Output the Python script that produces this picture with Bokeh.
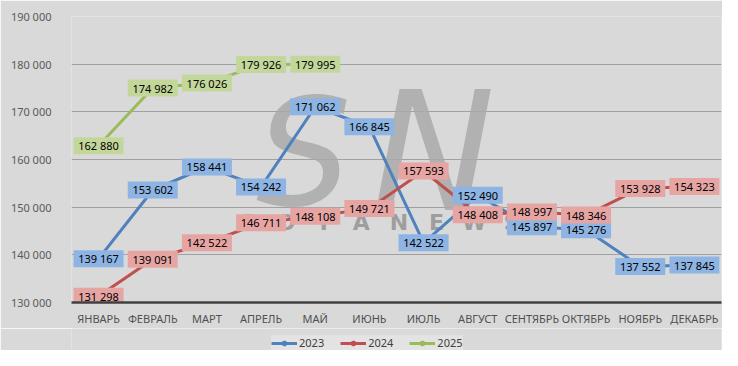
from bokeh.plotting import figure
from bokeh.layouts import column
from bokeh.models import (ColumnDataSource, FixedTicker, Legend, LegendItem,
                          Range1d, FactorRange, Label)
from bokeh.core.properties import value
from bokeh.embed import file_html
from bokeh.resources import INLINE

months = ["ЯНВАРЬ", "ФЕВРАЛЬ", "МАРТ", "АПРЕЛЬ", "МАЙ", "ИЮНЬ", "ИЮЛЬ",
          "АВГУСТ", "СЕНТЯБРЬ", "ОКТЯБРЬ", "НОЯБРЬ", "ДЕКАБРЬ"]
y2023 = [139167, 153602, 158441, 154242, 171062, 166845, 142522, 152490,
         145897, 145276, 137552, 137845]
y2024 = [131298, 139091, 142522, 146711, 148108, 149721, 157593, 148408,
         148997, 148346, 153928, 154323]
y2025 = [162880, 174982, 176026, 179926, 179995]
y_ticks = [130000, 140000, 150000, 160000, 170000, 180000, 190000]
y_tick_labels = ["130 000", "140 000", "150 000", "160 000", "170 000",
                 "180 000", "190 000"]

FONT = "Noto Sans"
BG = "#d9d9d9"
WM = "#a9a9a9"

p = figure(width=722, height=328, x_range=FactorRange(*months),
           y_range=Range1d(130000, 190000), output_backend="svg",
           toolbar_location=None, min_border_left=71, min_border_right=1,
           min_border_top=16, min_border_bottom=20)
p.background_fill_color = BG
p.border_fill_color = BG
p.outline_line_color = None

# grid / axes
p.xgrid.grid_line_color = None
p.ygrid.grid_line_color = "#a0a0a0"
p.ygrid.grid_line_width = 1
p.yaxis.ticker = FixedTicker(ticks=y_ticks)
p.yaxis.major_label_overrides = {t: l for t, l in zip(y_ticks, y_tick_labels)}
p.yaxis.axis_line_color = None
p.yaxis.major_tick_line_color = None
p.yaxis.minor_tick_line_color = None
p.yaxis.major_tick_out = 0
p.yaxis.minor_tick_out = 0
p.yaxis.major_label_standoff = 20
p.yaxis.major_label_text_font = FONT
p.yaxis.major_label_text_font_size = "11px"
p.yaxis.major_label_text_color = "#595959"

p.xaxis.axis_line_color = "#404040"
p.xaxis.axis_line_width = 2.5
p.xaxis.major_tick_line_color = None
p.xaxis.minor_tick_line_color = None
p.xaxis.major_tick_out = 0
p.xaxis.minor_tick_out = 0
p.xaxis.major_label_standoff = 8
p.xaxis.major_label_text_font = FONT
p.xaxis.major_label_text_font_size = "11px"
p.xaxis.major_label_text_color = "#505050"

# watermark (decoration, screen units relative to the plot frame)
p.add_layout(Label(x=232, y=150, x_units="screen", y_units="screen", text="S",
                   text_font="DejaVu Sans", text_font_style="italic",
                   text_font_size="150px", text_color=WM, text_alpha=0.85,
                   text_align="center", text_baseline="middle",
                   level="underlay"))
p.add_layout(Label(x=362, y=150, x_units="screen", y_units="screen", text="N",
                   text_font="DejaVu Sans", text_font_style="italic",
                   text_font_size="165px", text_color=WM, text_alpha=0.85,
                   text_align="center", text_baseline="middle",
                   level="underlay"))
for i, ch in enumerate("SOYANEWS"):
    p.add_layout(Label(x=177 + 37.6 * i, y=80, x_units="screen",
                       y_units="screen", text=ch, text_font="DejaVu Sans",
                       text_font_style="bold", text_font_size="22px",
                       text_color="#9e9e9e", text_alpha=1.0,
                       text_align="center", text_baseline="middle",
                       level="underlay"))

series = [
    ("2023", months, y2023, "#4f81bd", "#8db4e2"),
    ("2024", months, y2024, "#c0504d", "#e6a5a3"),
    ("2025", months[:len(y2025)], y2025, "#9bbb59", "#c4d79b"),
]


def fmt(v):
    return f"{v:,}".replace(",", " ")


for name, xs, ys, lc, fc in series:
    src = ColumnDataSource(dict(x=xs, y=ys, t=[fmt(v) for v in ys]))
    p.line("x", "y", source=src, line_color=lc, line_width=3)
    p.scatter("x", "y", source=src, size=15, fill_color=lc, line_color=lc)

for name, xs, ys, lc, fc in series:
    src = ColumnDataSource(dict(x=xs, y=ys, t=[fmt(v) for v in ys]))
    p.rect("x", "y", width=50, height=17, width_units="screen",
           height_units="screen", source=src, fill_color=fc, line_color=None)
    p.text("x", "y", text="t", source=src, text_font=value(FONT),
           text_font_size="11px", text_color="#000000", text_align="center",
           text_baseline="middle")

# legend strip (separate small figure so the legend is not clipped)
lg = figure(width=722, height=22, x_range=Range1d(0, 1), y_range=Range1d(0, 1),
            output_backend="svg", toolbar_location=None, min_border_left=71,
            min_border_right=1, min_border_top=0, min_border_bottom=0)
lg.axis.visible = False
lg.grid.grid_line_color = None
lg.outline_line_color = None
lg.background_fill_color = BG
lg.background_fill_alpha = 1
lg.border_fill_color = BG
nan = float("nan")
items = []
for name, xs, ys, lc, fc in series:
    lr = lg.line([nan], [nan], line_color=lc, line_width=3)
    ls = lg.scatter([nan], [nan], size=7, fill_color=lc, line_color=lc)
    items.append(LegendItem(label=name, renderers=[lr, ls]))
legend = Legend(items=items, orientation="horizontal", location=(200, 0))
legend.background_fill_color = "#e3e3e3"
legend.background_fill_alpha = 1
legend.border_line_color = None
legend.label_text_font = FONT
legend.label_text_font_size = "11px"
legend.label_text_color = "#404040"
legend.glyph_width = 26
legend.glyph_height = 12
legend.label_height = 12
legend.label_standoff = 2
legend.spacing = 16
legend.padding = 5
legend.margin = 0
lg.add_layout(legend)

layout = column(p, lg, spacing=0)
open("out.html", "w").write(file_html(layout, INLINE))
